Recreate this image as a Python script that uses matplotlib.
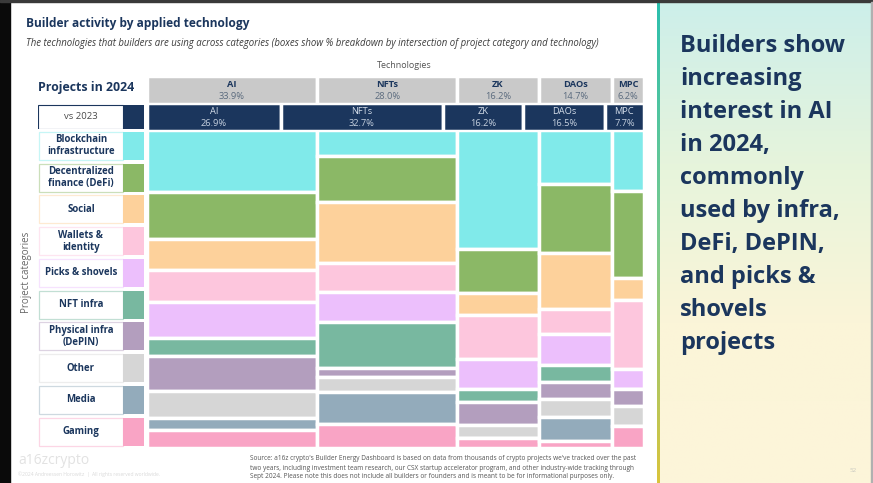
import numpy as np
import matplotlib
matplotlib.use('Agg')
import matplotlib.pyplot as plt
from matplotlib.colors import to_rgb, LinearSegmentedColormap

plt.rcParams['font.family'] = ['Open Sans', 'Lato', 'DejaVu Sans']

W, H = 873, 483
NAVY = '#1B365D'

techs = ['AI', 'NFTs', 'ZK', 'DAOs', 'MPC']
share_2024 = [33.9, 28.0, 16.2, 14.7, 6.2]
share_2023 = [26.9, 32.7, 16.2, 16.5, 7.7]

categories = ['Blockchain\ninfrastructure', 'Decentralized\nfinance (DeFi)', 'Social',
              'Wallets &\nidentity', 'Picks & shovels', 'NFT infra',
              'Physical infra\n(DePIN)', 'Other', 'Media', 'Gaming']
cat_colors = ['#80EAEA', '#8BB866', '#FDD19B', '#FDC6DD', '#ECBFFC',
              '#78B8A0', '#B39EBE', '#D6D6D6', '#93ABBB', '#F9A4C5']

# share of each technology's projects by category, top to bottom
mix_ai = [19.7, 14.6, 9.8, 10.1, 11.3, 5.6, 11.2, 8.6, 3.8, 5.4]
mix_nfts = [8.3, 14.4, 19.3, 8.9, 9.7, 14.3, 2.9, 4.8, 10.0, 7.4]
mix_zk = [37.6, 13.7, 7.1, 13.8, 9.5, 4.2, 7.1, 4.1, 0.0, 3.0]
mix_daos = [17.1, 21.5, 17.7, 8.1, 9.6, 5.3, 5.3, 5.7, 7.7, 2.0]
mix_mpc = [19.3, 27.5, 6.7, 22.0, 6.1, 0.0, 5.5, 6.1, 0.0, 6.9]
mixes = [mix_ai, mix_nfts, mix_zk, mix_daos, mix_mpc]

takeaway = ('Builders show\nincreasing\ninterest in AI\nin 2024,\ncommonly\n'
            'used by infra,\nDeFi, DePIN,\nand picks &\nshovels\nprojects')
source = ("Source: a16z crypto's Builder Energy Dashboard is based on data from thousands of crypto projects we've tracked over the past\n"
          "two years, including investment team research, our CSX startup accelerator program, and other industry-wide tracking through\n"
          "Sept 2024. Please note this does not include all builders or founders and is meant to be for informational purposes only.")

fig = plt.figure(figsize=(W / 100, H / 100), dpi=100, facecolor='white')


def px_axes(x0, y0, x1, y1):
    # axes placed by pixel box (origin top-left)
    ax = fig.add_axes([x0 / W, 1 - y1 / H, (x1 - x0) / W, (y1 - y0) / H])
    ax.axis('off')
    return ax


def tint(c, f=0.55):
    r = np.array(to_rgb(c))
    return tuple(r + (1 - r) * f)


# screen frame: black strip on the left, thin dark strip on top
fig.patches.append(plt.Rectangle((0, 0), 10 / W, 1, transform=fig.transFigure, color='#0A0A0A', zorder=0))
fig.patches.append(plt.Rectangle((0, 1 - 2 / H), 1, 2 / H, transform=fig.transFigure, color='#3A3A3A', zorder=0))

# right hand panel with soft gradient
panel = px_axes(659, 2, 871, 483)
grad = LinearSegmentedColormap.from_list('g', ['#CDEFEA', '#E6F4DC', '#FBF5D8', '#FDF5DA'])
panel.imshow(np.linspace(0, 1, 200).reshape(-1, 1), aspect='auto', cmap=grad, extent=(0, 1, 1, 0))
panel.set_xlim(0, 1)
panel.set_ylim(1, 0)
edge = px_axes(656.5, 2, 659, 483)
edge_cmap = LinearSegmentedColormap.from_list('e', ['#2CBFAE', '#7CCB8E', '#D9C43C'])
edge.imshow(np.linspace(0, 1, 200).reshape(-1, 1), aspect='auto', cmap=edge_cmap)
fig.patches.append(plt.Rectangle((871 / W, 0), 2 / W, 1 - 2 / H, transform=fig.transFigure,
                                 color='#B0B0B0', zorder=0))

fig.text(680 / W, 1 - 34 / H, takeaway, fontsize=17, fontweight='bold', color=NAVY,
         va='top', ha='left', linespacing=1.5)
fig.text(853 / W, 1 - 471 / H, '52', fontsize=4.5, color='#C8C8C0', ha='center', va='center')

# titles
fig.text(26 / W, 1 - 23 / H, 'Builder activity by applied technology', fontsize=8.6,
         fontweight='bold', color=NAVY, va='center')
fig.text(26 / W, 1 - 43.5 / H,
         'The technologies that builders are using across categories (boxes show % breakdown by '
         'intersection of project category and technology)',
         fontsize=6.9, style='italic', color='#3C3C3C', va='center')
fig.text(404 / W, 1 - 65.5 / H, 'Technologies', fontsize=6.5, color='#555555', ha='center', va='center')
fig.text(38 / W, 1 - 88 / H, 'Projects in 2024', fontsize=8.9, fontweight='bold', color=NAVY, va='center')
fig.text(27 / W, 1 - 272 / H, 'Project categories', fontsize=7, color='#666666',
         rotation=90, ha='center', va='center')

total24 = sum(share_2024)
lefts24 = np.cumsum([0] + share_2024[:-1])
lefts23 = np.cumsum([0] + share_2023[:-1])

# 2024 header row
hdr = px_axes(147, 75.5, 643.5, 103.5)
hdr.barh(0, share_2024, left=lefts24, height=1, align='edge', color='#C9C9C9',
         edgecolor='white', linewidth=2.5)
for t, l, w in zip(techs, lefts24, share_2024):
    hdr.text(l + w / 2, 0.33, t, ha='center', va='center', fontsize=6.7, fontweight='bold', color=NAVY)
    hdr.text(l + w / 2, 0.74, f'{w:.1f}%', ha='center', va='center', fontsize=6.7, color='#5B6B7E')
hdr.set_xlim(0, total24)
hdr.set_ylim(1, 0)

# vs 2023 row
row23 = px_axes(147, 102.5, 643.5, 131.5)
row23.barh(0, share_2023, left=lefts23, height=1, align='edge', color=NAVY,
           edgecolor='white', linewidth=2.5)
for t, l, w in zip(techs, lefts23, share_2023):
    row23.text(l + w / 2, 0.3, t, ha='center', va='center', fontsize=6.7, color='#D5DEEA')
    row23.text(l + w / 2, 0.72, f'{w:.1f}%', ha='center', va='center', fontsize=6.7, color='#C4CFDD')
row23.set_xlim(0, sum(share_2023))
row23.set_ylim(1, 0)

# mekko body
body = px_axes(147, 130, 643.5, 447.5)
for l, w, mix in zip(lefts24, share_2024, mixes):
    vals = np.array(mix) / sum(mix) * 100
    bottoms = np.cumsum(np.r_[0, vals[:-1]])
    body.bar(np.full(len(vals), l), vals, width=w, bottom=bottoms, align='edge',
             color=cat_colors, edgecolor='white', linewidth=2.5)
body.set_xlim(0, total24)
body.set_ylim(100, 0)

# category legend on the left
split = 0.805
vs = px_axes(37.5, 104.3, 144, 129.3)
vs.barh(0, split, left=0, height=1, align='edge', color='white', edgecolor=NAVY, linewidth=0.8)
vs.barh(0, 1 - split, left=split, height=1, align='edge', color=NAVY, linewidth=0)
vs.text(split / 2, 0.5, 'vs 2023', ha='center', va='center', fontsize=6.8, color='#4A4A4A')
vs.set_xlim(-0.005, 1)
vs.set_ylim(1.02, -0.02)

leg = px_axes(37.5, 130, 144, 447.5)
rows = np.arange(len(categories))
leg.barh(rows, split, left=0, height=0.88, color='white',
         edgecolor=[tint(c) for c in cat_colors], linewidth=0.9)
leg.barh(rows, 1 - split, left=split, height=0.88, color=cat_colors, linewidth=0)
for r, name in zip(rows, categories):
    leg.text(split / 2, r, name, ha='center', va='center', fontsize=6.9, fontweight='bold',
             color=NAVY, linespacing=1.1)
leg.set_xlim(-0.01, 1)
leg.set_ylim(len(categories) - 0.5, -0.5)

# footer
fig.text(18 / W, 1 - 461 / H, 'a16zcrypto', fontsize=10, color='#E2E2E2', va='center')
fig.text(18 / W, 1 - 474 / H, '\u00a92024 Andreessen Horowitz  |  All rights reserved worldwide.',
         fontsize=3.6, color='#DADADA', va='center')
fig.text(250 / W, 1 - 468 / H, source, fontsize=4.7, color='#555555', va='center', linespacing=1.4)

fig.savefig('out.png', dpi=100, facecolor='white')
